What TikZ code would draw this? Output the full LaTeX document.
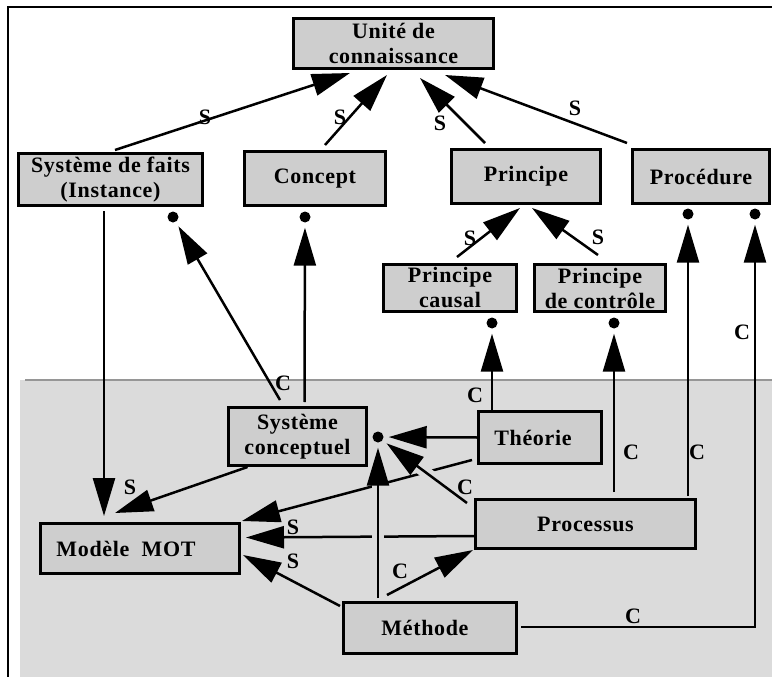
\documentclass[tikz,border=0pt]{standalone}
\usepackage{fontspec}
\setmainfont{Liberation Serif}[LetterSpace=3]
\usetikzlibrary{arrows.meta}
\definecolor{box gray}{RGB}{206,206,206}
\definecolor{zone gray}{RGB}{219,219,219}
\definecolor{rule gray}{RGB}{150,150,150}

\begin{document}
\begin{tikzpicture}[x=1pt, y=-1pt,
		box/.style={draw, line width=3pt, fill=box gray, align=center, inner sep=0pt,
			font=\bfseries\fontsize{22}{25}\selectfont},
		lbl/.style={inner sep=0pt, font=\bfseries\fontsize{22}{25}\selectfont},
		pin/.style={circle, fill, inner sep=0pt, minimum size=11pt},
		link/.style={line width=2.5pt, -{Triangle[length=38pt,width=22pt]}},
		plink/.style={link, shorten >=5pt},
		halo/.style={preaction={draw=zone gray, line width=12pt, -, shorten >=#1}}]
		\useasboundingbox (0,0) rectangle (772,677);
		% part for the lower zone
		\fill[zone gray] (20,380) rectangle (772,677);
		\draw[rule gray, line width=2pt] (25,380) -- (772,380);
		\draw[line width=2pt] (8,677) -- (8,7) -- (772,7);
		% boxes
		\node[box, minimum width=200pt, minimum height=50pt] (unite) at (393.5,43.5) {Unité de\\connaissance};
		\node[box, minimum width=184pt, minimum height=52pt] (faits) at (110.5,179.5) {Système de faits\\(Instance)};
		\node[box, minimum width=141pt, minimum height=54pt] (concept) at (315,178.5) {Concept};
		\node[box, minimum width=149pt, minimum height=54pt] (principe) at (526,176.5) {Principe};
		\node[box, minimum width=137pt, minimum height=54pt] (procedure) at (701,176.5) {Procédure};
		\node[box, minimum width=133pt, minimum height=47pt] (pcausal) at (450,288) {Principe\\causal};
		\node[box, minimum width=131pt, minimum height=47pt] (pcontrole) at (600,288) {Principe\\de contrôle};
		\node[box, minimum width=138pt, minimum height=58pt] (sysconc) at (297.5,436.5) {Système\\conceptuel};
		\node[box, minimum width=123pt, minimum height=52pt] (theorie) at (540,437.5) {Théorie\hspace{14pt}};
		\node[box, minimum width=220pt, minimum height=49pt] (processus) at (585.5,524) {Processus};
		\node[box, minimum width=199pt, minimum height=50pt] (mot) at (140,548.5) {Modèle~ MOT\hspace{28pt}};
		\node[box, minimum width=173pt, minimum height=51pt] (methode) at (430,628) {Méthode\hspace{10pt}};
		% pins
		\node[pin] (dfaits) at (173,217) {};
		\node[pin] (dconcept) at (305,217) {};
		\node[pin] (dproc1) at (688,214) {};
		\node[pin] (dproc2) at (755,214) {};
		\node[pin] (dcausal) at (492,323) {};
		\node[pin] (dcontrole) at (614,323) {};
		\node[pin] (dsys) at (378,437) {};
		% part for S links
		\draw[link] ([shift={(4.5,-2)}]faits.north) -- ([shift={(-43.5,3)}]unite.south);
		\draw[link] ([shift={(10,-5)}]concept.north) -- ([shift={(-6.5,5)}]unite.south);
		\draw[link] ([shift={(-41,-5)}]principe.north) -- ([shift={(26.5,8)}]unite.south);
		\draw[link] ([shift={(-74,-5)}]procedure.north) -- ([shift={(51.5,5)}]unite.south);
		\draw[link] ([shift={(7,-6)}]pcausal.north) -- ([shift={(-6,3)}]principe.south);
		\draw[link] ([shift={(-2,-8)}]pcontrole.north) -- ([shift={(6,3)}]principe.south);
		\draw[link] ([shift={(-6.5,4)}]faits.south) -- ([shift={(-36,-6)}]mot.north);
		\draw[link] ([shift={(-50,0)}]sysconc.south) -- ([shift={(-25,-9)}]mot.north);
		\draw[link] ([shift={(-5,-5)}]theorie.south west) -- ([shift={(1,-1)}]mot.north east);
		\draw[link] ([shift={(0,12)}]processus.west) -- ([shift={(5,-11)}]mot.east);
		\draw[link] ([shift={(-2,5)}]methode.north west) -- ([shift={(2,-20)}]mot.south east);
		% part for C links
		\draw[plink] ([shift={(-17.5,-6)}]sysconc.north) -- (dfaits);
		\draw[plink] ([shift={(7,-4)}]sysconc.north) -- (dconcept);
		\draw[plink] ([shift={(-48,0)}]theorie.north) -- (dcausal);
		\draw[plink] ([shift={(28.5,-6)}]processus.north) -- (dcontrole);
		\draw[plink] ([shift={(102.5,-2)}]processus.north) -- (dproc1);
		\draw[plink] ([shift={(3,-1)}]methode.east) -| (dproc2);
		\draw[link] ([shift={(-43,-6)}]methode.north) -- ([shift={(-1,0)}]processus.south west);
		\draw[plink, halo=35pt] ([shift={(-52,-3)}]methode.north) -- (dsys);
		\draw[plink, halo=44pt] ([shift={(-7,5)}]processus.north west) -- (dsys);
		\draw[plink] (theorie.west) -- (dsys);
		% labels
		\node[lbl] (s1) at (205,117) {S};
		\node[lbl] (s2) at (340,117) {S};
		\node[lbl] (s3) at (440,123) {S};
		\node[lbl] (s4) at (575,108) {S};
		\node[lbl] (s5) at (470,238) {S};
		\node[lbl] (s6) at (598,237) {S};
		\node[lbl] (s7) at (130,487) {S};
		\node[lbl] (s8) at (293,527) {S};
		\node[lbl] (s9) at (293,561) {S};
		\node[lbl] (c1) at (283,383) {C};
		\node[lbl] (c2) at (475,395) {C};
		\node[lbl] (c3) at (631,452) {C};
		\node[lbl] (c4) at (697,452) {C};
		\node[lbl] (c5) at (742,332) {C};
		\node[lbl] (c6) at (465,487) {C};
		\node[lbl] (c7) at (400,571) {C};
		\node[lbl] (c8) at (633,616) {C};
	\end{tikzpicture}
\end{document}
